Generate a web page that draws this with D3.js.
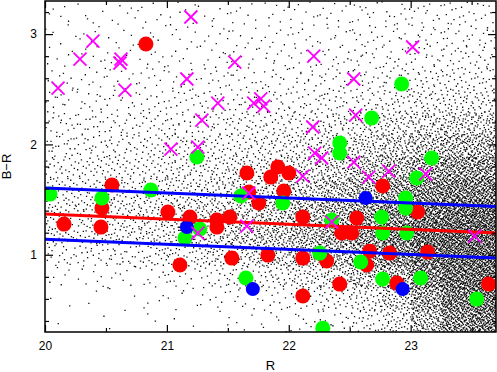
<!DOCTYPE html>
<html><head><meta charset="utf-8">
<script src="https://cdn.jsdelivr.net/npm/d3@7"></script>
<style>html,body{margin:0;padding:0;background:#fff;} svg{display:block;}</style>
</head><body>
<svg id="chart" width="497" height="372"></svg>
<script>
// ---------- data ----------
const xDomain = [20, 23.7];
const yDomain = [0.3, 3.3];
const xMajorTicks = [20, 21, 22, 23];
const xMinorTicks = [20.5, 21.5, 22.5, 23.5];
const yMajorTicks = [1, 2, 3];
const yMinorTicks = [0.4, 0.6, 0.8, 1.2, 1.4, 1.6, 1.8, 2.2, 2.4, 2.6, 2.8, 3.2];

// background field: estimated number of objects per bin (R bin 0.25 wide, B-R bin 0.2 tall)
const fieldR = [20, 20.25, 20.5, 20.75, 21, 21.25, 21.5, 21.75, 22, 22.25, 22.5, 22.75, 23, 23.25, 23.5];
const fieldColor = [3.1, 2.9, 2.7, 2.5, 2.3, 2.1, 1.9, 1.7, 1.5, 1.3, 1.1, 0.9, 0.7, 0.5, 0.3];
const fieldCounts = [
  [5,5,5,6,6,6,7,7,8,9,10,11,12,13,13],
  [5,5,6,6,7,7,8,8,9,10,11,12,13,14,14],
  [6,7,7,8,8,9,9,10,11,12,13,14,16,17,17],
  [8,9,9,10,10,11,12,13,14,15,17,19,22,24,24],
  [11,12,12,13,14,15,16,17,19,21,24,28,33,36,36],
  [16,17,18,19,20,22,24,26,29,34,40,48,58,66,66],
  [20,21,22,24,26,28,31,35,41,49,60,74,92,108,110],
  [24,25,27,29,32,36,41,48,57,70,88,115,145,168,170],
  [28,30,32,35,39,45,52,62,76,96,122,155,195,220,220],
  [32,34,37,41,47,55,66,80,100,126,155,195,235,260,265],
  [30,33,36,41,48,58,71,88,110,140,175,220,265,290,290],
  [18,20,23,27,33,42,53,67,85,110,142,190,245,280,290],
  [6,7,8,10,13,17,23,31,42,58,85,125,205,260,280],
  [2,2,3,4,5,7,9,12,17,25,40,72,145,232,260],
  [1,1,1,2,2,3,4,6,9,14,25,45,105,200,240]
];

const redPoints = [
  [20.828,2.910],[20.549,1.632],[20.156,1.278],[20.459,1.251],[20.467,1.423],[21.008,1.387],
  [21.656,1.741],[21.910,1.795],[21.852,1.704],[22.000,1.741],[21.959,1.577],[21.672,1.568],
  [21.754,1.469],[21.189,1.342],[21.410,1.315],[21.516,1.342],[21.410,1.251],[22.115,1.342],
  [21.533,0.970],[21.828,0.997],[22.115,0.970],[22.311,0.943],[21.107,0.907],[22.115,0.626],
  [22.770,1.623],[22.557,1.333],[22.434,1.197],[22.516,1.197],[23.057,1.387],[22.664,1.033],
  [22.828,1.015],[23.139,1.024],[22.639,0.907],[22.418,0.734],[22.885,0.743],[23.639,0.734]
];
const greenPoints = [
  [20.041,1.550],[20.467,1.514],[20.869,1.587],[21.246,1.886],[21.607,1.532],[21.951,1.469],
  [21.270,1.233],[21.148,1.151],[22.254,1.015],[21.648,0.789],[22.279,0.335],[22.926,2.548],
  [22.680,2.239],[22.418,2.013],[22.418,1.922],[23.172,1.877],[23.049,1.696],[22.959,1.514],
  [22.959,1.423],[22.762,1.342],[22.770,1.197],[22.967,1.197],[22.352,1.315],[22.590,0.934],
  [22.770,0.780],[23.082,0.789],[23.541,0.598]
];
const bluePoints = [
  [21.164,1.251],[21.705,0.689],[22.631,1.514],[22.934,0.689]
];
const crossPoints = [
  [20.107,2.511],[20.287,2.774],[20.393,2.937],[20.623,2.774],[20.615,2.738],[20.656,2.493],
  [21.197,3.155],[21.557,2.747],[21.164,2.593],[21.418,2.375],[21.287,2.221],[21.713,2.375],
  [21.770,2.412],[21.795,2.348],[22.205,2.801],[22.197,2.158],[23.016,2.883],[22.533,2.593],
  [22.549,2.266],[21.033,1.958],[21.254,1.976],[22.213,1.922],[22.270,1.877],[22.115,1.713],
  [21.672,1.559],[21.656,1.260],[21.254,1.197],[22.533,1.840],[22.656,1.704],[22.820,1.759],
  [23.123,1.732],[22.352,1.296],[23.525,1.169]
];
const upperLine = [[20, 1.605], [23.7, 1.437]];
const middleLine = [[20, 1.369], [23.7, 1.197]];
const lowerLine = [[20, 1.140], [23.7, 0.970]];

// ---------- chart ----------
const W = 497, H = 372;
const M = {l: 45, r: 1, t: 1, b: 40};
const svg = d3.select('#chart');
const x = d3.scaleLinear().domain(xDomain).range([M.l, W - M.r]);
const y = d3.scaleLinear().domain(yDomain).range([H - M.b, M.t]);

svg.append('defs').append('clipPath').attr('id', 'plotclip')
  .append('rect').attr('x', x(xDomain[0])).attr('y', y(yDomain[1]))
  .attr('width', x(xDomain[1]) - x(xDomain[0])).attr('height', y(yDomain[0]) - y(yDomain[1]));

const plot = svg.append('g').attr('clip-path', 'url(#plotclip)');

// background field of faint objects (deterministic low-discrepancy placement inside each bin)
function halton(i, b) { let f = 1, r = 0; while (i > 0) { f /= b; r += f * (i % b); i = Math.floor(i / b); } return r; }
let k = 1, d = '';
const ds = 1.3;
fieldColor.forEach((c0, ri) => {
  fieldR.forEach((r0, ci) => {
    const n = fieldCounts[ri][ci];
    for (let j = 0; j < n; j++, k++) {
      const rv = r0 + 0.25 * halton(k, 2);
      const cv = c0 + 0.2 * halton(k, 3);
      d += 'M' + x(rv).toFixed(1) + ',' + y(cv).toFixed(1) + 'h' + ds + 'v' + ds + 'h-' + ds + 'z';
    }
  });
});
plot.append('path').attr('class', 'field').attr('d', d).attr('fill', '#111');

// circles
function circles(data, color, r) {
  plot.append('g').selectAll('circle').data(data).join('circle')
    .attr('cx', p => x(p[0])).attr('cy', p => y(p[1])).attr('r', r).attr('fill', color);
}
circles(redPoints, '#ff0000', 7.5);
circles(greenPoints, '#00ff00', 7.5);
circles(bluePoints, '#0000ff', 7);

// fitted lines
const line = d3.line().x(p => x(p[0])).y(p => y(p[1]));
[[upperLine, '#0000ff'], [middleLine, '#ff0000'], [lowerLine, '#0000ff']].forEach(([ln, col]) => {
  plot.append('path').attr('d', line(ln)).attr('fill', 'none').attr('stroke', col).attr('stroke-width', 3);
});

// crosses
plot.append('g').selectAll('path').data(crossPoints).join('path')
  .attr('transform', p => `translate(${x(p[0])},${y(p[1])})`)
  .attr('d', 'M-6.5,-6.5L6.5,6.5M-6.5,6.5L6.5,-6.5')
  .attr('stroke', '#ff00ff').attr('stroke-width', 1.8).attr('fill', 'none');

// axes
const font = '"Liberation Sans", Arial, Helvetica, sans-serif';
function styleAxis(g) {
  g.select('.domain').remove();
  g.selectAll('line').attr('stroke', '#000').attr('stroke-width', 1.2);
  g.selectAll('text').attr('font-family', font).attr('font-size', 12).attr('fill', '#000');
}
const yb = y(yDomain[0]), yt = y(yDomain[1]), xl = x(xDomain[0]), xr = x(xDomain[1]);
svg.append('g').attr('transform', `translate(0,${yb})`)
  .call(d3.axisBottom(x).tickValues(xMajorTicks).tickSize(-7).tickPadding(9).tickFormat(d3.format('d'))).call(styleAxis);
svg.append('g').attr('transform', `translate(0,${yb})`)
  .call(d3.axisBottom(x).tickValues(xMinorTicks).tickSize(-4).tickFormat('')).call(styleAxis);
svg.append('g').attr('transform', `translate(0,${yt})`)
  .call(d3.axisTop(x).tickValues(xMajorTicks).tickSize(-7).tickFormat('')).call(styleAxis);
svg.append('g').attr('transform', `translate(0,${yt})`)
  .call(d3.axisTop(x).tickValues(xMinorTicks).tickSize(-4).tickFormat('')).call(styleAxis);
svg.append('g').attr('transform', `translate(${xl},0)`)
  .call(d3.axisLeft(y).tickValues(yMajorTicks).tickSize(-8).tickPadding(8).tickFormat(d3.format('d'))).call(styleAxis);
svg.append('g').attr('transform', `translate(${xl},0)`)
  .call(d3.axisLeft(y).tickValues(yMinorTicks).tickSize(-4).tickFormat('')).call(styleAxis);
svg.append('g').attr('transform', `translate(${xr},0)`)
  .call(d3.axisRight(y).tickValues(yMajorTicks).tickSize(-8).tickFormat('')).call(styleAxis);
svg.append('g').attr('transform', `translate(${xr},0)`)
  .call(d3.axisRight(y).tickValues(yMinorTicks).tickSize(-4).tickFormat('')).call(styleAxis);

// frame
svg.append('rect').attr('x', xl).attr('y', yt).attr('width', xr - xl).attr('height', yb - yt)
  .attr('fill', 'none').attr('stroke', '#000').attr('stroke-width', 1.5);

// axis titles
svg.append('text').attr('x', (xl + xr) / 2).attr('y', 370).attr('text-anchor', 'middle')
  .attr('font-family', font).attr('font-size', 13).text('R');
svg.append('text').attr('transform', `translate(11,${(yt + yb) / 2}) rotate(-90)`).attr('text-anchor', 'middle')
  .attr('font-family', font).attr('font-size', 13).text('B−R');
</script>
</body></html>
